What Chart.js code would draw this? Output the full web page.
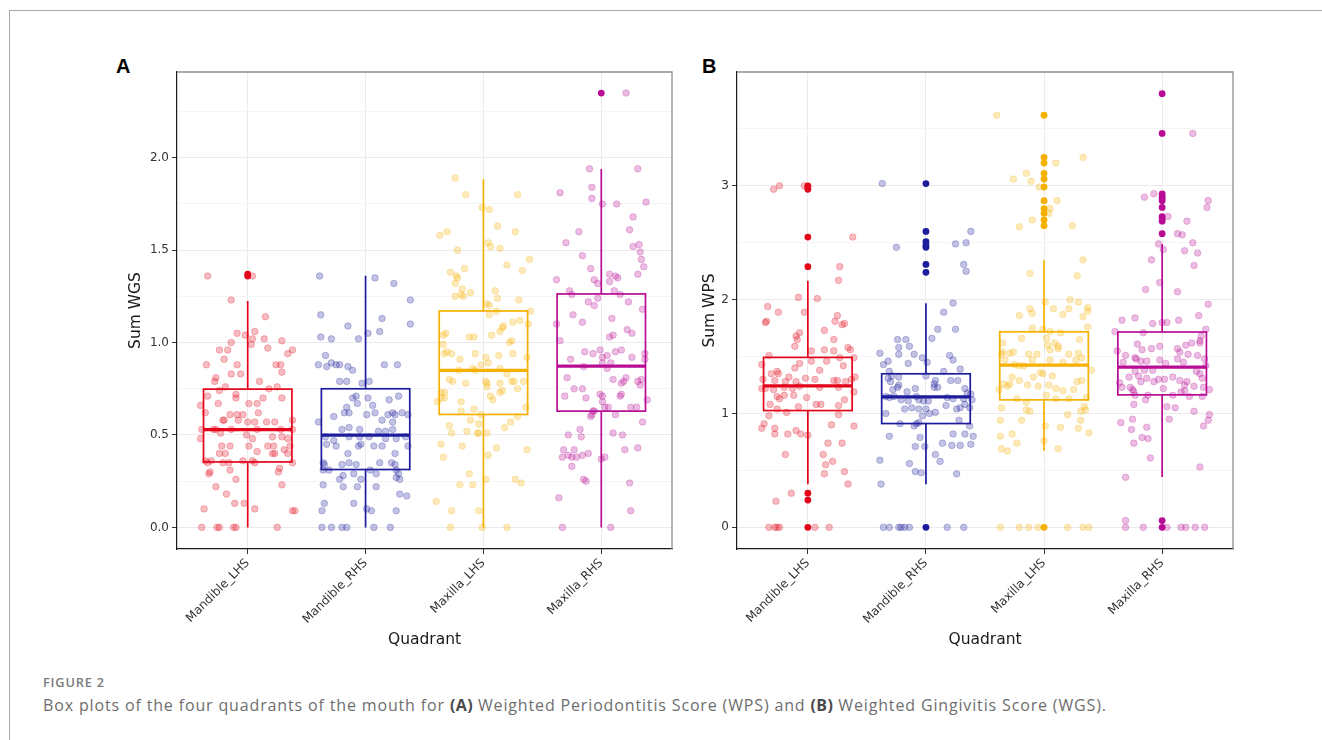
<!DOCTYPE html>
<html><head><meta charset="utf-8">
<script src="https://cdn.jsdelivr.net/npm/chart.js@4.4.1/dist/chart.umd.min.js"></script>
<style>
html,body{margin:0;padding:0;background:#fff;width:1322px;height:740px;overflow:hidden;position:relative;}
#frame{position:absolute;left:9px;top:10px;width:1313px;height:730px;border-top:1px solid #a8a8a8;border-left:1px solid #a8a8a8;}
canvas{position:absolute;}
#cA{left:110px;top:30px;}
#cB{left:690px;top:30px;}
.plabel{position:absolute;font:bold 20px "Liberation Sans",Arial,sans-serif;color:#000;line-height:20px;}
#fig{position:absolute;left:43px;top:673px;font:600 12.8px "Open Sans",sans-serif;color:#7c7c7c;letter-spacing:0.8px;white-space:nowrap;}
#cap{position:absolute;left:43px;top:694px;font:16px "Open Sans",sans-serif;color:#6e6e6e;letter-spacing:0.85px;white-space:nowrap;}
#cap b{color:#4a4a4a;font-weight:700;letter-spacing:0.4px;}
</style></head>
<body>
<div id="frame"></div>
<div class="plabel" style="left:116px;top:56px;">A</div>
<div class="plabel" style="left:702px;top:56px;">B</div>
<canvas id="cA" width="585" height="630"></canvas>
<canvas id="cB" width="565" height="630"></canvas>
<div id="fig">FIGURE 2</div>
<div id="cap">Box plots of the four quadrants of the mouth for <b>(A)</b> Weighted Periodontitis Score (WPS) and <b>(B)</b> Weighted Gingivitis Score (WGS).</div>
<script>
const categories = ['Mandible_LHS','Mandible_RHS','Maxilla_LHS','Maxilla_RHS'];
const groupColors = ['#E3061B','#1C1C9C','#F6B000','#B80C95'];

// ---------- Panel A : Sum WGS  (each point = [jitter, value]) ----------
const wgsMandibleLHS = [[-0.34,1.36],[0.04,1.36],[-0.14,1.23],[0.15,1.14],[-0.09,1.05],[0.06,1.06],[-0.02,1.04],[0.04,1.02],[0.14,1.02],[0.29,1.01],[-0.14,1.00],[0.03,0.99],[-0.24,0.96],[-0.17,0.96],[0.17,0.97],[0.38,0.96],[0.34,0.94],[-0.20,0.91],[-0.35,0.88],[-0.09,0.88],[0.24,0.88],[0.28,0.88],[-0.14,0.83],[-0.06,0.83],[0.29,0.84],[-0.27,0.81],[-0.28,0.79],[0.10,0.79],[-0.19,0.76],[0.18,0.75],[0.25,0.76],[-0.24,0.74],[-0.34,0.71],[-0.10,0.72],[-0.10,0.70],[0.29,0.70],[0.13,0.70],[-0.40,0.66],[-0.25,0.67],[0.01,0.67],[0.08,0.67],[-0.36,0.62],[-0.15,0.61],[-0.09,0.61],[-0.04,0.61],[0.09,0.62],[-0.21,0.58],[-0.20,0.58],[-0.08,0.58],[0.00,0.57],[0.06,0.57],[0.16,0.57],[0.23,0.57],[0.38,0.58],[-0.39,0.53],[-0.29,0.53],[-0.27,0.53],[-0.23,0.51],[-0.14,0.53],[0.08,0.53],[0.28,0.53],[0.38,0.53],[-0.01,0.50],[0.04,0.48],[0.21,0.49],[0.29,0.49],[0.34,0.48],[-0.40,0.48],[-0.22,0.44],[-0.15,0.44],[0.01,0.44],[0.17,0.44],[0.22,0.44],[0.36,0.44],[0.31,0.42],[-0.24,0.40],[-0.19,0.40],[0.08,0.41],[0.21,0.40],[0.23,0.40],[0.34,0.40],[-0.36,0.36],[-0.34,0.35],[-0.31,0.36],[-0.21,0.35],[-0.16,0.35],[-0.04,0.36],[0.04,0.36],[0.06,0.35],[0.38,0.35],[0.27,0.32],[0.26,0.30],[-0.32,0.30],[-0.33,0.29],[-0.15,0.31],[-0.10,0.26],[-0.27,0.22],[0.29,0.23],[-0.18,0.18],[-0.11,0.13],[-0.03,0.13],[-0.37,0.10],[0.06,0.10],[0.38,0.09],[0.40,0.09],[-0.39,0],[-0.26,0],[-0.24,0],[-0.12,0],[-0.10,0],[0.25,0]];
const wgsMandibleRHS = [[-0.39,1.36],[0.08,1.35],[0.24,1.32],[0.38,1.23],[-0.38,1.15],[0.14,1.13],[-0.15,1.09],[0.38,1.10],[0.12,1.06],[-0.38,1.03],[-0.29,1.02],[-0.06,1.02],[0.02,1.05],[-0.34,0.93],[-0.40,0.88],[-0.33,0.87],[-0.29,0.89],[-0.25,0.88],[-0.22,0.88],[-0.15,0.87],[-0.11,0.85],[0.16,0.88],[0.27,0.88],[-0.22,0.79],[-0.16,0.79],[-0.03,0.78],[0.03,0.79],[-0.11,0.70],[-0.08,0.71],[0.02,0.70],[0.20,0.69],[0.28,0.71],[-0.16,0.65],[-0.07,0.67],[0.06,0.66],[-0.18,0.62],[-0.14,0.62],[-0.27,0.60],[0.01,0.61],[0.08,0.62],[0.19,0.61],[0.23,0.62],[0.25,0.61],[0.31,0.62],[0.36,0.61],[-0.40,0.57],[0.14,0.58],[0.23,0.57],[-0.20,0.53],[-0.14,0.54],[-0.05,0.53],[0.11,0.52],[0.17,0.52],[0.23,0.53],[-0.34,0.49],[-0.27,0.47],[-0.14,0.49],[-0.05,0.49],[0.03,0.49],[0.17,0.48],[0.26,0.48],[0.34,0.49],[-0.33,0.45],[-0.25,0.44],[-0.06,0.44],[-0.04,0.45],[0.07,0.44],[0.14,0.44],[0.36,0.44],[-0.15,0.40],[0.25,0.40],[-0.36,0.35],[-0.35,0.34],[-0.20,0.34],[-0.14,0.35],[-0.08,0.34],[0.12,0.35],[0.22,0.35],[0.25,0.34],[-0.36,0.31],[-0.31,0.31],[-0.10,0.29],[0.04,0.31],[0.09,0.29],[0.26,0.31],[0.28,0.29],[-0.19,0.28],[-0.22,0.26],[-0.04,0.26],[0.26,0.27],[0.29,0.26],[-0.36,0.23],[-0.19,0.22],[-0.07,0.22],[0.09,0.22],[0.29,0.18],[0.35,0.17],[-0.35,0.13],[-0.10,0.13],[0.01,0.10],[0.05,0.09],[-0.37,0.09],[0.26,0.09],[-0.37,0],[-0.29,0],[-0.20,0],[-0.16,0],[0.07,0],[0.21,0]];
const wgsMaxillaLHS = [[-0.24,1.89],[-0.15,1.80],[0.29,1.80],[-0.01,1.73],[0.05,1.72],[0.12,1.63],[-0.37,1.58],[-0.31,1.60],[0.27,1.60],[0.04,1.54],[0.06,1.52],[-0.22,1.50],[0.14,1.51],[0.39,1.45],[0.20,1.42],[-0.16,1.40],[0.33,1.39],[-0.28,1.38],[-0.23,1.36],[-0.22,1.35],[-0.24,1.32],[-0.18,1.29],[-0.11,1.27],[-0.19,1.26],[-0.24,1.25],[-0.17,1.25],[0.10,1.28],[0.12,1.24],[0.30,1.23],[0.03,1.21],[0.05,1.20],[0.11,1.17],[0.40,1.17],[0.05,1.15],[0.31,1.12],[0.25,1.11],[0.17,1.09],[0.16,1.08],[0.14,1.06],[0.38,1.10],[-0.34,1.04],[-0.32,1.05],[-0.12,1.03],[-0.08,1.03],[0.07,1.04],[0.22,1.00],[0.24,1.01],[-0.34,0.99],[-0.33,0.94],[-0.31,0.95],[-0.27,0.94],[-0.20,0.91],[-0.07,0.94],[0.02,0.92],[0.13,0.93],[0.25,0.94],[0.37,0.92],[-0.02,0.88],[0.04,0.89],[-0.09,0.86],[-0.07,0.85],[-0.21,0.85],[0.14,0.86],[0.20,0.83],[0.26,0.79],[-0.29,0.80],[-0.26,0.79],[-0.15,0.78],[0.02,0.79],[0.03,0.78],[0.03,0.76],[0.14,0.78],[0.24,0.79],[0.34,0.79],[0.29,0.75],[-0.36,0.73],[-0.33,0.73],[-0.36,0.70],[-0.33,0.70],[-0.39,0.68],[0.14,0.73],[0.16,0.74],[0.06,0.71],[0.08,0.69],[-0.19,0.68],[-0.08,0.64],[0.36,0.65],[-0.19,0.63],[-0.02,0.61],[0.29,0.60],[-0.11,0.58],[-0.04,0.56],[0.23,0.57],[0.18,0.54],[-0.29,0.55],[-0.27,0.51],[-0.14,0.52],[-0.05,0.51],[-0.04,0.51],[0.03,0.51],[-0.36,0.45],[-0.18,0.44],[0.11,0.43],[0.37,0.42],[0.04,0.39],[-0.34,0.38],[-0.12,0.29],[-0.20,0.23],[-0.09,0.23],[0.02,0.26],[0.27,0.26],[0.32,0.24],[-0.40,0.14],[-0.27,0.09],[-0.04,0.09],[-0.28,0],[-0.01,0],[0.20,0]];
const wgsMaxillaRHS = [[0.21,2.35],[-0.10,1.94],[0.31,1.94],[-0.08,1.84],[-0.35,1.81],[-0.08,1.78],[0.01,1.75],[0.13,1.75],[0.38,1.76],[0.27,1.68],[0.24,1.61],[-0.19,1.60],[-0.30,1.54],[0.27,1.52],[0.32,1.53],[0.33,1.49],[-0.16,1.47],[0.34,1.45],[0.36,1.41],[-0.09,1.40],[0.07,1.37],[0.12,1.36],[0.14,1.35],[0.31,1.37],[-0.06,1.34],[-0.03,1.32],[-0.38,1.34],[0.07,1.33],[-0.27,1.28],[-0.25,1.26],[0.11,1.28],[0.16,1.26],[-0.03,1.24],[-0.11,1.22],[-0.06,1.20],[0.23,1.22],[0.35,1.18],[-0.24,1.15],[0.09,1.13],[-0.16,1.11],[-0.38,1.10],[-0.35,1.01],[0.10,1.04],[0.07,1.03],[0.22,1.07],[0.26,1.05],[0.17,0.96],[0.12,0.95],[-0.01,0.96],[-0.14,0.95],[-0.07,0.94],[0.01,0.92],[0.05,0.93],[0.08,0.89],[0.01,0.89],[-0.26,0.91],[0.26,0.92],[0.37,0.94],[0.37,0.91],[-0.15,0.87],[0.05,0.86],[-0.29,0.81],[0.10,0.80],[0.19,0.79],[0.21,0.81],[0.17,0.78],[0.31,0.79],[0.33,0.77],[0.34,0.80],[-0.31,0.71],[-0.23,0.75],[-0.16,0.75],[-0.01,0.72],[0.01,0.71],[0.01,0.68],[-0.13,0.70],[0.16,0.71],[0.17,0.72],[0.25,0.65],[0.30,0.65],[0.39,0.69],[-0.07,0.63],[-0.06,0.63],[0.03,0.65],[0.06,0.65],[-0.09,0.60],[-0.08,0.61],[0.12,0.61],[0.35,0.57],[-0.18,0.53],[-0.28,0.50],[-0.17,0.49],[0.10,0.51],[0.18,0.50],[-0.32,0.42],[-0.23,0.42],[-0.33,0.38],[-0.28,0.39],[-0.25,0.38],[-0.21,0.38],[-0.16,0.39],[-0.11,0.40],[0.00,0.37],[0.03,0.38],[0.20,0.42],[0.31,0.43],[-0.25,0.33],[-0.15,0.26],[-0.13,0.25],[0.24,0.24],[-0.36,0.16],[0.25,0.09],[-0.33,0],[0.08,0]];
const wgsLowerWhisker = [0, 0, 0, 0];
const wgsQ1 = [0.354, 0.313, 0.611, 0.629];
const wgsMedian = [0.529, 0.499, 0.849, 0.873];
const wgsQ3 = [0.748, 0.750, 1.171, 1.263];
const wgsUpperWhisker = [1.225, 1.362, 1.884, 1.939];
const wgsOutliers = [[1.36, 1.37], [], [], [2.35]];
const wgsMajorTicks = [0, 0.5, 1, 1.5, 2];
const wgsMinorTicks = [0.25, 0.75, 1.25, 1.75, 2.25];
const wgsRange = [-0.117, 2.464];

// ---------- Panel B : Sum WPS ----------
const wpsMandibleLHS = [[-0.29,2.97],[-0.24,3.00],[-0.03,3.00],[0.38,2.55],[0.27,2.29],[0.26,2.17],[-0.08,2.02],[0.08,2.01],[-0.34,1.94],[-0.25,1.89],[-0.03,1.89],[0.25,1.86],[-0.36,1.80],[-0.35,1.81],[0.23,1.81],[0.29,1.78],[0.31,1.79],[0.14,1.73],[-0.10,1.68],[-0.07,1.71],[-0.09,1.65],[0.22,1.65],[-0.11,1.59],[0.34,1.58],[0.36,1.56],[0.03,1.55],[0.14,1.56],[0.22,1.55],[-0.33,1.51],[0.03,1.46],[0.16,1.46],[0.27,1.49],[0.39,1.49],[-0.39,1.43],[-0.07,1.44],[-0.11,1.40],[0.10,1.38],[0.30,1.42],[-0.31,1.35],[-0.26,1.37],[-0.16,1.32],[-0.25,1.35],[-0.38,1.30],[-0.28,1.29],[-0.19,1.28],[-0.10,1.28],[-0.02,1.31],[0.06,1.30],[0.22,1.29],[0.25,1.29],[0.32,1.28],[0.37,1.30],[0.40,1.32],[-0.39,1.22],[-0.36,1.22],[-0.20,1.23],[-0.13,1.22],[-0.07,1.24],[0.10,1.23],[0.26,1.23],[0.39,1.19],[-0.29,1.21],[-0.26,1.15],[-0.24,1.13],[-0.20,1.16],[-0.12,1.16],[-0.01,1.14],[0.31,1.12],[-0.32,1.08],[-0.26,1.04],[-0.08,1.06],[0.07,1.08],[0.11,1.08],[0.26,1.07],[-0.33,0.98],[-0.18,1.01],[0.26,0.99],[-0.37,0.91],[-0.39,0.87],[-0.28,0.87],[-0.28,0.82],[-0.17,0.82],[-0.10,0.85],[-0.06,0.82],[0.00,0.81],[0.20,0.90],[0.39,0.89],[0.17,0.74],[0.29,0.74],[-0.19,0.64],[0.13,0.64],[0.21,0.58],[0.15,0.55],[0.14,0.47],[0.31,0.49],[0.34,0.38],[-0.14,0.30],[-0.27,0.23],[-0.33,0],[-0.28,0],[-0.26,0],[-0.24,0],[0.06,0],[0.18,0]];
const wpsMandibleRHS = [[-0.37,3.02],[-0.25,2.46],[0.25,2.49],[0.34,2.50],[0.38,2.60],[0.32,2.31],[0.34,2.25],[0.23,1.97],[0.15,1.89],[0.25,1.74],[0.10,1.74],[0.05,1.66],[-0.24,1.65],[-0.17,1.65],[-0.23,1.58],[-0.14,1.59],[-0.39,1.53],[-0.23,1.52],[-0.10,1.52],[-0.03,1.49],[0.01,1.45],[-0.15,1.44],[-0.36,1.43],[-0.32,1.46],[0.20,1.51],[0.23,1.47],[0.29,1.39],[0.15,1.37],[-0.31,1.37],[-0.29,1.33],[-0.32,1.31],[-0.23,1.32],[-0.23,1.25],[-0.30,1.28],[-0.24,1.23],[-0.28,1.21],[-0.16,1.19],[-0.09,1.22],[0.00,1.33],[0.08,1.29],[0.07,1.26],[0.07,1.23],[0.10,1.23],[0.21,1.29],[0.27,1.29],[0.33,1.22],[0.35,1.18],[0.38,1.17],[0.39,1.12],[0.37,1.05],[-0.34,1.15],[-0.31,1.14],[-0.27,1.15],[-0.21,1.12],[-0.15,1.11],[-0.08,1.15],[-0.06,1.12],[-0.02,1.11],[0.02,1.11],[0.18,1.14],[0.23,1.13],[0.32,1.13],[0.29,1.05],[0.33,1.08],[0.26,1.04],[0.17,1.07],[-0.34,1.00],[-0.18,1.04],[-0.12,1.05],[-0.06,1.04],[0.00,1.04],[0.03,1.00],[0.08,1.01],[-0.03,0.98],[-0.22,0.91],[-0.10,0.89],[-0.08,0.91],[-0.06,0.92],[0.28,0.94],[0.37,0.89],[-0.31,0.80],[-0.05,0.79],[0.23,0.82],[0.33,0.82],[0.40,0.80],[-0.09,0.71],[-0.01,0.71],[0.14,0.74],[0.22,0.72],[0.29,0.72],[0.38,0.73],[0.08,0.64],[0.12,0.58],[-0.14,0.56],[-0.39,0.59],[-0.09,0.49],[-0.04,0.48],[0.26,0.47],[-0.38,0.38],[-0.36,0],[-0.31,0],[-0.23,0],[-0.21,0],[-0.18,0],[-0.14,0],[0.18,0],[0.32,0]];
const wpsMaxillaLHS = [[-0.40,3.62],[0.10,3.20],[0.33,3.25],[-0.15,3.11],[-0.26,3.06],[-0.11,3.04],[-0.04,2.99],[0.11,2.87],[0.05,2.80],[0.04,2.76],[-0.10,2.70],[-0.21,2.64],[0.24,2.65],[0.33,2.35],[-0.12,2.23],[0.28,2.21],[0.01,1.98],[0.08,1.92],[-0.12,1.92],[-0.10,1.88],[-0.21,1.86],[0.16,1.87],[0.21,1.92],[0.29,1.98],[0.37,1.93],[0.37,1.90],[0.33,1.85],[0.22,2.00],[-0.10,1.75],[0.37,1.76],[-0.01,1.74],[0.05,1.72],[0.14,1.71],[-0.19,1.66],[0.02,1.66],[0.03,1.60],[0.09,1.62],[0.12,1.59],[-0.35,1.62],[0.30,1.65],[-0.36,1.52],[-0.35,1.54],[-0.29,1.53],[-0.26,1.54],[-0.13,1.52],[-0.06,1.52],[0.05,1.56],[0.12,1.57],[0.21,1.52],[0.29,1.53],[0.27,1.47],[0.32,1.49],[-0.33,1.47],[-0.17,1.42],[-0.10,1.47],[0.05,1.47],[0.16,1.45],[-0.21,1.42],[-0.25,1.43],[0.40,1.38],[-0.03,1.36],[-0.01,1.35],[0.07,1.33],[-0.09,1.32],[-0.34,1.26],[-0.27,1.32],[-0.21,1.29],[-0.14,1.25],[-0.05,1.24],[0.04,1.25],[0.10,1.22],[0.16,1.20],[0.25,1.21],[0.28,1.28],[0.32,1.29],[-0.38,1.21],[-0.31,1.24],[-0.29,1.26],[-0.23,1.13],[0.02,1.16],[0.10,1.13],[0.21,1.13],[0.36,1.14],[-0.15,1.10],[-0.12,1.02],[-0.36,1.05],[-0.15,1.03],[0.31,1.02],[0.35,1.03],[0.34,1.06],[-0.37,0.94],[-0.19,0.94],[0.01,0.89],[0.14,0.88],[0.20,0.99],[0.29,0.87],[0.31,0.94],[-0.37,0.80],[-0.27,0.82],[-0.23,0.74],[0.00,0.76],[0.12,0.69],[0.38,0.83],[-0.36,0.69],[-0.31,0.67],[-0.37,0],[-0.21,0],[-0.13,0],[-0.05,0],[0.20,0],[0.33,0],[0.38,0]];
const wpsMaxillaRHS = [[0.26,3.46],[-0.15,2.90],[-0.07,2.93],[0.05,2.73],[0.21,2.69],[0.39,2.87],[0.38,2.81],[0.13,2.58],[0.17,2.57],[0.26,2.50],[-0.03,2.49],[0.01,2.44],[0.19,2.43],[0.30,2.41],[-0.09,2.35],[0.27,2.30],[-0.02,2.15],[-0.14,2.09],[0.13,2.07],[0.39,1.96],[-0.34,1.82],[-0.23,1.84],[-0.08,1.79],[0.00,1.80],[0.04,1.80],[0.14,1.82],[0.31,1.86],[0.37,1.74],[-0.40,1.72],[-0.16,1.71],[0.33,1.68],[0.32,1.62],[0.25,1.62],[0.20,1.60],[-0.38,1.55],[-0.21,1.61],[-0.17,1.56],[-0.09,1.57],[-0.02,1.59],[0.13,1.57],[0.15,1.54],[0.22,1.52],[0.32,1.64],[-0.31,1.51],[-0.23,1.49],[-0.22,1.48],[-0.18,1.46],[-0.13,1.46],[-0.02,1.47],[0.03,1.44],[0.13,1.48],[0.18,1.45],[-0.33,1.45],[0.30,1.51],[0.36,1.48],[0.37,1.42],[-0.23,1.37],[-0.15,1.38],[-0.08,1.38],[-0.28,1.32],[-0.20,1.33],[-0.13,1.31],[-0.07,1.28],[-0.03,1.30],[0.02,1.30],[0.09,1.32],[0.15,1.29],[0.21,1.28],[0.29,1.37],[0.32,1.35],[0.34,1.31],[-0.36,1.27],[-0.34,1.23],[-0.27,1.23],[-0.25,1.21],[-0.18,1.28],[0.01,1.22],[0.19,1.25],[0.27,1.24],[0.35,1.23],[0.40,1.21],[-0.24,1.19],[-0.23,1.16],[-0.12,1.16],[-0.14,1.12],[-0.24,1.08],[0.09,1.16],[0.16,1.19],[0.19,1.20],[0.23,1.15],[0.34,1.15],[0.04,1.06],[0.11,1.05],[0.27,1.02],[-0.35,0.92],[-0.25,0.95],[-0.26,0.86],[-0.13,0.88],[-0.17,0.79],[-0.12,0.78],[-0.24,0.74],[0.06,0.95],[0.35,0.89],[0.39,0.94],[0.40,0.99],[-0.10,0.61],[0.32,0.53],[-0.31,0.44],[-0.31,0.06],[-0.31,0],[-0.16,0],[0.04,0],[0.16,0],[0.20,0],[0.28,0],[0.36,0]];
const wpsLowerWhisker = [0.378, 0.378, 0.674, 0.443];
const wpsQ1 = [1.026, 0.912, 1.120, 1.164];
const wpsMedian = [1.243, 1.147, 1.425, 1.408];
const wpsQ3 = [1.493, 1.349, 1.718, 1.716];
const wpsUpperWhisker = [2.167, 1.968, 2.346, 2.490];
const wpsOutliers = [
  [3.00, 2.99, 2.97, 2.55, 2.29, 0.30, 0.24, 0],
  [3.02, 2.60, 2.51, 2.48, 2.46, 2.31, 2.24, 0],
  [3.62, 3.25, 3.20, 3.11, 3.06, 2.99, 2.87, 2.80, 2.76, 2.70, 2.65, 0],
  [3.81, 3.46, 2.93, 2.91, 2.89, 2.87, 2.81, 2.73, 2.71, 2.69, 2.58, 0.06, 0]
];
const wpsMajorTicks = [0, 1, 2, 3];
const wpsMinorTicks = [0.5, 1.5, 2.5, 3.5];
const wpsRange = [-0.19, 4.0];

// ---------- drawing ----------
Chart.defaults.font.family = "'DejaVu Sans', sans-serif";
function rgba(hex, a) { const n = parseInt(hex.slice(1), 16); return `rgba(${n >> 16},${(n >> 8) & 255},${n & 255},${a})`; }

const boxPlugin = {
  id: 'boxes',
  afterDatasetsDraw(chart, args, o) {
    const { ctx, chartArea: a, scales: { x, y } } = chart;
    ctx.save();
    ctx.beginPath(); ctx.rect(a.left, a.top, a.right - a.left, a.bottom - a.top); ctx.clip();
    o.median.forEach((m, i) => {
      const c = x.getPixelForValue(i + 1);
      const hw = x.getPixelForValue(i + 1 + o.boxWidth / 2) - c;
      const yLo = y.getPixelForValue(o.lower[i]), yQ1 = y.getPixelForValue(o.q1[i]);
      const yMed = y.getPixelForValue(m), yQ3 = y.getPixelForValue(o.q3[i]), yHi = y.getPixelForValue(o.upper[i]);
      ctx.strokeStyle = groupColors[i];
      ctx.lineWidth = 1.7;
      ctx.beginPath();
      ctx.moveTo(c, yQ3); ctx.lineTo(c, yHi);
      ctx.moveTo(c, yQ1); ctx.lineTo(c, yLo);
      ctx.stroke();
      ctx.strokeRect(c - hw, yQ3, 2 * hw, yQ1 - yQ3);
      ctx.lineWidth = 3.2;
      ctx.beginPath(); ctx.moveTo(c - hw, yMed); ctx.lineTo(c + hw, yMed); ctx.stroke();
    });
    ctx.restore();
    ctx.save();
    ctx.strokeStyle = '#8e8e8e'; ctx.lineWidth = 1.3;
    ctx.beginPath(); ctx.moveTo(a.left, a.top); ctx.lineTo(a.right, a.top); ctx.lineTo(a.right, a.bottom); ctx.stroke();
    ctx.restore();
  }
};

function makePanel(id, p) {
  const datasets = [];
  p.outliers.forEach((vals, i) => {
    datasets.push({ data: vals.map(v => ({ x: i + 1, y: v })), pointRadius: 3.4, pointBackgroundColor: groupColors[i], pointBorderWidth: 0, order: 1 });
  });
  p.groups.forEach((pts, i) => {
    datasets.push({ data: pts.map(q => ({ x: i + 1 + q[0], y: q[1] })), pointRadius: 3.3,
      pointBackgroundColor: rgba(groupColors[i], 0.27), pointBorderColor: rgba(groupColors[i], 0.3), pointBorderWidth: 0.8, order: 0 });
  });
  const allTicks = p.major.concat(p.minor).sort((a, b) => a - b);
  const isMajor = v => p.major.includes(v);
  new Chart(document.getElementById(id), {
    type: 'scatter',
    data: { datasets },
    plugins: [boxPlugin],
    options: {
      responsive: false, animation: false, events: [],
      layout: { padding: { top: 42, right: p.padRight, left: 0, bottom: 0 } },
      plugins: {
        legend: { display: false }, tooltip: { enabled: false },
        boxes: { lower: p.lower, q1: p.q1, median: p.median, q3: p.q3, upper: p.upper, boxWidth: 0.75 }
      },
      scales: {
        x: {
          type: 'linear', min: 0.4, max: 4.6,
          afterBuildTicks: s => { s.ticks = categories.map((c, i) => ({ value: i + 1 })); },
          afterFit: s => { s.height = 111; },
          ticks: { callback: v => categories[Math.round(v) - 1], minRotation: 45, maxRotation: 45, autoSkip: false, color: '#333', font: { size: 12 }, padding: 2 },
          grid: { color: '#EBEBEB', lineWidth: 1, tickColor: '#333', tickLength: 5 },
          border: { color: '#1a1a1a', width: 1.2 },
          title: { display: true, text: 'Quadrant', color: '#1a1a1a', font: { size: 15.5 }, padding: { top: 0, bottom: 11 } }
        },
        y: {
          type: 'linear', min: p.range[0], max: p.range[1],
          afterBuildTicks: s => { s.ticks = allTicks.map(v => ({ value: v })); },
          afterFit: s => { s.width = p.axisWidth; },
          ticks: { callback: v => isMajor(v) ? p.fmt(v) : '', autoSkip: false, color: '#333', font: { size: 12 }, padding: 3 },
          grid: {
            color: c => (c.tick && isMajor(c.tick.value)) ? '#EBEBEB' : '#F5F5F5',
            tickColor: c => (c.tick && isMajor(c.tick.value)) ? '#333' : 'rgba(0,0,0,0)',
            lineWidth: 1, tickLength: 5
          },
          border: { color: '#1a1a1a', width: 1.2 },
          title: { display: true, text: p.title, color: '#1a1a1a', font: { size: 15.5 }, padding: { top: p.titlePad, bottom: 0 } }
        }
      }
    }
  });
}

makePanel('cA', {
  groups: [wgsMandibleLHS, wgsMandibleRHS, wgsMaxillaLHS, wgsMaxillaRHS],
  lower: wgsLowerWhisker, q1: wgsQ1, median: wgsMedian, q3: wgsQ3, upper: wgsUpperWhisker,
  outliers: wgsOutliers, major: wgsMajorTicks, minor: wgsMinorTicks, range: wgsRange,
  fmt: v => v.toFixed(1), title: 'Sum WGS', titlePad: 17, axisWidth: 67, padRight: 23
});
makePanel('cB', {
  groups: [wpsMandibleLHS, wpsMandibleRHS, wpsMaxillaLHS, wpsMaxillaRHS],
  lower: wpsLowerWhisker, q1: wpsQ1, median: wpsMedian, q3: wpsQ3, upper: wpsUpperWhisker,
  outliers: wpsOutliers, major: wpsMajorTicks, minor: wpsMinorTicks, range: wpsRange,
  fmt: v => String(v), title: 'Sum WPS', titlePad: 11, axisWidth: 47, padRight: 22
});
</script>
</body></html>
